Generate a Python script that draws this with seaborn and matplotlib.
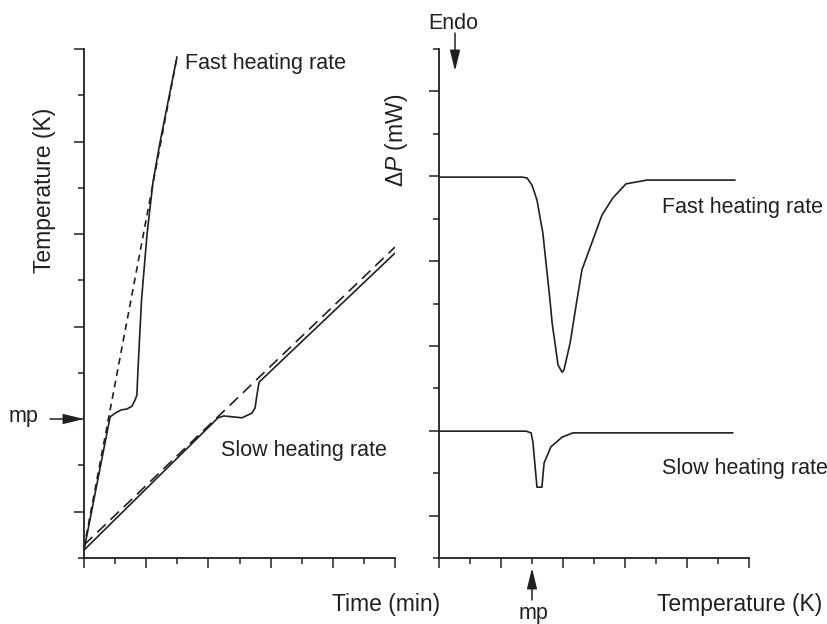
import matplotlib
matplotlib.use("Agg")
import matplotlib.pyplot as plt
from matplotlib.patches import FancyArrowPatch
import pandas as pd
import seaborn as sns

# left panel: temperature vs time (arbitrary units, axes 0..10 and 0..11)
fast_t = [0.0, 0.84, 1.0, 1.19, 1.38, 1.54, 1.64, 1.70, 1.74, 1.85, 2.03, 2.22, 2.44, 2.67, 2.99]
fast_T = [0.17, 3.05, 3.13, 3.20, 3.22, 3.28, 3.41, 3.52, 4.13, 5.58, 7.02, 8.13, 8.97, 9.75, 10.83]
fast_prog_t = [0.0, 2.97]
fast_prog_T = [0.22, 10.76]

slow_t = [0.0, 4.31, 4.50, 5.08, 5.40, 5.50, 5.56, 5.63, 10.0]
slow_T = [0.17, 3.03, 3.07, 3.03, 3.13, 3.24, 3.52, 3.80, 6.59]
slow_prog_t = [0.0, 10.0]
slow_prog_T = [0.28, 6.72]

# right panel: DSC traces (arbitrary units, axes 0..10 and 0..12)
fast_dsc_x = [0.0, 2.68, 2.84, 3.00, 3.16, 3.35, 3.58, 3.65, 3.84, 3.97, 4.03, 4.23, 4.45,
              4.61, 4.87, 5.26, 5.61, 6.03, 6.71, 9.55]
fast_dsc_y = [8.98, 8.98, 8.96, 8.79, 8.44, 7.66, 6.08, 5.54, 4.55, 4.38, 4.43, 5.07, 6.08,
              6.79, 7.31, 8.09, 8.49, 8.82, 8.91, 8.91]
slow_dsc_x = [0.0, 2.81, 2.97, 3.03, 3.16, 3.32, 3.39, 3.61, 3.97, 4.32, 9.48]
slow_dsc_y = [2.99, 2.99, 2.95, 2.73, 1.67, 1.67, 2.24, 2.62, 2.85, 2.95, 2.95]

W, H = 827, 624

sns.set_style("ticks")
plt.rcParams["font.family"] = ["Liberation Sans", "DejaVu Sans"]
plt.rcParams["mathtext.fontset"] = "custom"
plt.rcParams["mathtext.rm"] = "Liberation Sans"
plt.rcParams["mathtext.it"] = "Liberation Sans:italic"

INK = "#231f20"
LW = 1.2


def px(x, y):
    return x / W, 1 - y / H


def curve(ax, xs, ys, dashes=None):
    df = pd.DataFrame({"x": xs, "y": ys})
    sns.lineplot(data=df, x="x", y="y", ax=ax, sort=False, estimator=None,
                 color=INK, linewidth=LW, dashes=False)
    if dashes is not None:
        ax.lines[-1].set_dashes(dashes)


def style_axis(ax, ymax):
    ax.set_xlim(0, 10)
    ax.set_ylim(0, ymax)
    ax.set_xticks(range(0, 11, 2))
    ax.set_xticks(range(1, 10, 2), minor=True)
    ax.set_yticks(range(1, ymax + 1, 2))
    ax.set_yticks(range(0, ymax + 1, 2), minor=True)
    ax.set_xticklabels([])
    ax.set_yticklabels([])
    ax.tick_params(which="major", length=7.5, width=1.1, color=INK, direction="out")
    ax.tick_params(which="minor", length=4.3, width=1.1, color=INK, direction="out")
    for s in ("left", "bottom"):
        ax.spines[s].set_linewidth(1.3)
        ax.spines[s].set_color(INK)
    sns.despine(ax=ax)
    ax.set_xlabel("")
    ax.set_ylabel("")


fig = plt.figure(figsize=(W / 100, H / 100), dpi=100)
ax1 = fig.add_axes([84 / W, 1 - 558 / H, 311 / W, 509 / H])
ax2 = fig.add_axes([439 / W, 1 - 558 / H, 310 / W, 509 / H])

curve(ax1, fast_prog_t, fast_prog_T, dashes=(4, 3))
curve(ax1, fast_t, fast_T)
curve(ax1, slow_prog_t, slow_prog_T, dashes=(7, 4))
curve(ax1, slow_t, slow_T)
style_axis(ax1, 11)

curve(ax2, fast_dsc_x, fast_dsc_y)
curve(ax2, slow_dsc_x, slow_dsc_y)
style_axis(ax2, 12)

FS = 15.5
FL = 16.5
txt = dict(color=INK, fontsize=FS, va="baseline", ha="left")
lab = dict(txt, fontsize=FL)
fig.text(*px(185, 69), "Fast heating rate", **txt)
fig.text(*px(221, 456), "Slow heating rate", **txt)
fig.text(*px(9, 422), "mp", **txt)
fig.text(*px(332, 611), "Time (min)", **lab)
fig.text(*px(657, 611), "Temperature (K)", **lab)
fig.text(*px(533, 619), "mp", color=INK, fontsize=FS, va="baseline", ha="center")
fig.text(*px(428, 29), "Endo", **txt)
fig.text(*px(662, 213), "Fast heating rate", **txt)
fig.text(*px(662, 474), "Slow heating rate", **txt)
fig.text(*px(45, 190), "Temperature (K)", color=INK, fontsize=FL, rotation=90,
         ha="center", va="center")
fig.text(*px(396, 140), r"$\Delta P$ (mW)", color=INK, fontsize=FL, rotation=90,
         ha="center", va="center")

arrow = dict(arrowstyle="-|>,head_length=0.9,head_width=0.22", color=INK, lw=1.1,
             shrinkA=0, shrinkB=0, mutation_scale=14)
fig.add_artist(FancyArrowPatch(px(50, 419), px(84, 419), **arrow))
fig.add_artist(FancyArrowPatch(px(532, 600), px(532, 568), **arrow))
fig.add_artist(FancyArrowPatch(px(455, 33), px(455, 71), **arrow))

fig.savefig("out.png", dpi=100)
